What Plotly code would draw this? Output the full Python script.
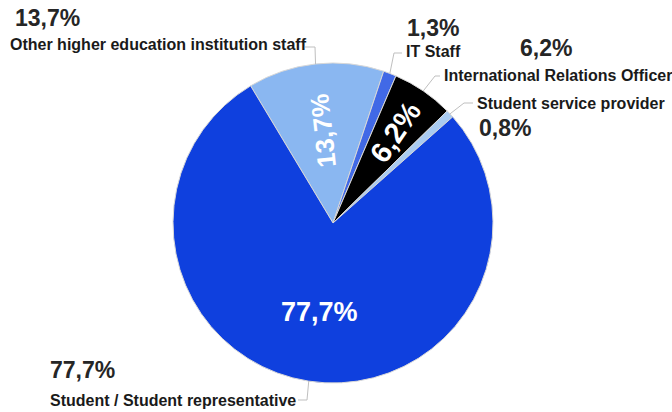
import math
import plotly.graph_objects as go

labels = ["Other higher education institution staff", "IT Staff",
          "International Relations Officer", "Student service provider",
          "Student / Student representative"]
values = [13.7, 1.3, 6.2, 0.8, 77.7]
value_text = ["13,7%", "1,3%", "6,2%", "0,8%", "77,7%"]
colors = ["#8AB7F1", "#4169E6", "#000000", "#A9CBF1", "#0F40DE"]

W, H = 672, 412
CX, CY, R = 333, 223, 160
ROT = -31

# label anchor positions (pixels): value text, name text, leader elbow
label_pos = [
    dict(v=(13, 18), n=(8, 45), line=[(305, 47), (315, 47)]),
    dict(v=(405, 28), n=(404, 52), line=[(402, 53), (394, 53)]),
    dict(v=(518, 48), n=(442, 75), line=[(440, 76), (435, 76)]),
    dict(v=(477, 128), n=(475, 103), line=[(473, 103), (464, 103)]),
    dict(v=(48, 370), n=(48, 400), line=[(298, 400), (307, 400)]),
]
# inside label style per slice: (radius fraction, orientation, size) or None
inside = [(0.58, "radial", 26), None, (0.69, "radial", 29), None, (0.56, "horizontal", 27)]

def px(x):
    return x / W

def py(y):
    return 1 - y / H

fig = go.Figure()
fig.add_trace(go.Pie(
    labels=labels, values=values, sort=False, direction="clockwise",
    rotation=ROT, hole=0,
    domain=dict(x=[px(CX - R), px(CX + R)], y=[py(CY + R), py(CY - R)]),
    marker=dict(colors=colors, line=dict(color="#D8D8D8", width=1)),
    textinfo="none", showlegend=False, hoverinfo="label+percent",
))

annotations = []
shapes = []
total = sum(values)
start = ROT
for i, v in enumerate(values):
    span = v / total * 360
    mid_deg = start + span / 2
    mid = math.radians(mid_deg)
    start += span
    ex = CX + R * math.sin(mid)
    ey = CY - R * math.cos(mid)
    lp = label_pos[i]
    annotations.append(dict(x=px(lp["v"][0]), y=py(lp["v"][1]), xref="paper", yref="paper",
                            text=value_text[i], showarrow=False, xanchor="left", yanchor="middle",
                            font=dict(family="Liberation Sans", size=23, color="#262626", weight="bold")))
    annotations.append(dict(x=px(lp["n"][0]), y=py(lp["n"][1]), xref="paper", yref="paper",
                            text=labels[i], showarrow=False, xanchor="left", yanchor="middle",
                            font=dict(family="Liberation Sans", size=16, color="#1a1a1a", weight="bold")))
    (x0, y0), (x1, y1) = lp["line"]
    path = f"M {px(x0)} {py(y0)} L {px(x1)} {py(y1)} L {px(ex)} {py(ey)}"
    shapes.append(dict(type="path", path=path, xref="paper", yref="paper",
                       line=dict(color="#BFBFBF", width=1)))
    if inside[i]:
        frac, orient, size = inside[i]
        tx = CX + R * frac * math.sin(mid)
        ty = CY - R * frac * math.cos(mid)
        angle = 0
        if orient == "radial":
            angle = mid_deg - 90
            if angle < -180:
                angle += 180
        annotations.append(dict(x=px(tx), y=py(ty), xref="paper", yref="paper",
                                text=value_text[i], showarrow=False, textangle=angle,
                                xanchor="center", yanchor="middle",
                                font=dict(family="Liberation Sans", size=size, color="white", weight="bold")))

fig.update_layout(width=W, height=H, margin=dict(l=0, r=0, t=0, b=0),
                  paper_bgcolor="white", plot_bgcolor="white",
                  annotations=annotations, shapes=shapes)
fig.write_html("out.html", config={"displayModeBar": False},
               post_script="document.body.style.margin='0';")
